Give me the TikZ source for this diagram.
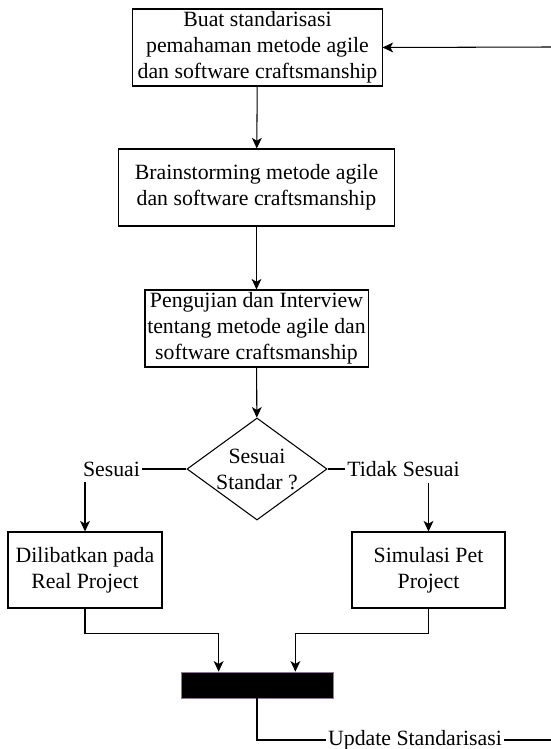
\documentclass[tikz,border=0pt]{standalone}
\usepackage{fontspec}
\setmainfont{Liberation Serif}
\usetikzlibrary{shapes.geometric,arrows.meta}
\definecolor{ungu}{HTML}{9673A6}

\begin{document}
\begin{tikzpicture}[x=0.025cm, y=-0.025cm, line width=0.75pt,
    every node/.style={font=\fontsize{15.5}{18.5}\selectfont},
    kotak/.style={draw, align=center, inner sep=0pt},
    label teks/.style={inner xsep=1pt, inner ysep=4pt},
    panah/.style={-{Stealth[length=7.5pt,width=7pt,inset=2pt]}}]
    \useasboundingbox (0,0) rectangle (551,749);

    % langkah
    \node[kotak, minimum width=6.225cm, minimum height=1.925cm] (buat) at (257.5,47.5)
        {Buat standarisasi\\pemahaman metode agile\\dan software craftsmanship};
    \node[kotak, minimum width=6.875cm, minimum height=1.925cm] (brain) at (256.5,187.5)
        {Brainstorming metode agile\\dan software craftsmanship};
    \node[kotak, minimum width=5.575cm, minimum height=1.925cm] (uji) at (256.5,328.5)
        {Pengujian dan Interview\\tentang metode agile dan\\software craftsmanship};
    \node[draw, diamond, aspect=1.37, align=center, inner sep=0pt,
          minimum width=3.5cm, minimum height=2.55cm] (cek) at (257,469)
        {Sesuai\\Standar ?};
    \node[kotak, minimum width=3.85cm, minimum height=1.9cm] (dilibat) at (85,570)
        {Dilibatkan pada\\Real Project};
    \node[kotak, minimum width=3.825cm, minimum height=1.9cm] (simulasi) at (428.5,570)
        {Simulasi Pet\\Project};
    \node[draw=ungu, fill=black, line width=0.5pt, inner sep=0pt,
          minimum width=3.8cm, minimum height=0.65cm] (bar) at (257,685) {};

    % label cabang
    \node[label teks] (lsesuai) at (111.5,469) {Sesuai};
    \node[label teks] (ltidak) at (403.5,469) {Tidak Sesuai};
    \node[label teks] (lupdate) at (415,740) {Update Standarisasi};

    % ujung kanan
    \coordinate (kanan1) at (551,47);
    \coordinate (kanan2) at (551,740);

    % alur
    \draw[panah] (kanan1) -- (buat.east);
    \draw[panah] (buat) -- (brain);
    \draw[panah] (brain) -- (uji);
    \draw[panah] (uji) -- (cek);
    \draw (cek.west) -- (lsesuai.east);
    \draw (cek.east) -- (ltidak.west);
    \draw[panah] (lsesuai.south -| dilibat.north) -- (dilibat.north);
    \draw[panah] (ltidak.south -| simulasi.north) -- (simulasi.north);
    \draw[panah] (dilibat.south) -- ++(0,25) -| ([xshift=0.95cm]bar.north west);
    \draw[panah] (simulasi.south) -- ++(0,25) -| ([xshift=-0.95cm]bar.north east);
    \draw (bar.south) |- (lupdate.west);
    \draw (lupdate.east) -- (kanan2);
\end{tikzpicture}
\end{document}
